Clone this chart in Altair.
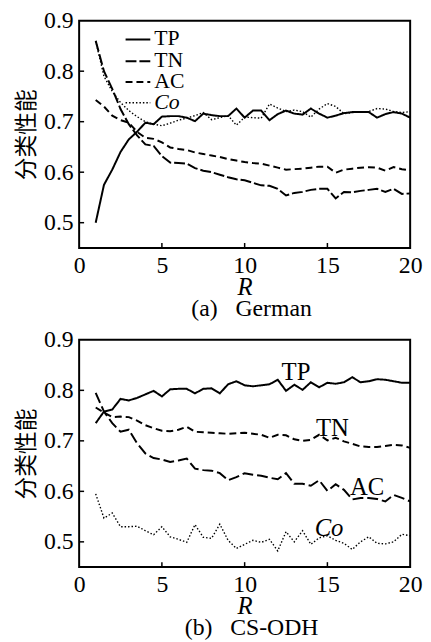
import altair as alt
import pandas as pd

R = [1, 1.5, 2, 2.5, 3, 3.5, 4, 4.5, 5, 5.5, 6, 6.5, 7, 7.5, 8, 8.5, 9, 9.5, 10, 10.5,
     11, 11.5, 12, 12.5, 13, 13.5, 14, 14.5, 15, 15.5, 16, 16.5, 17, 17.5, 18, 18.5, 19, 19.5, 20]

# (a) German
a_TP = [0.500, 0.575, 0.605, 0.640, 0.665, 0.680, 0.698, 0.695, 0.710, 0.711, 0.711, 0.708, 0.701,
        0.716, 0.713, 0.711, 0.711, 0.726, 0.708, 0.722, 0.722, 0.703, 0.715, 0.722, 0.716, 0.714,
        0.726, 0.716, 0.708, 0.712, 0.717, 0.719, 0.719, 0.719, 0.708, 0.715, 0.719, 0.716, 0.708]
a_TN = [0.860, 0.800, 0.765, 0.725, 0.695, 0.673, 0.655, 0.652, 0.632, 0.619, 0.618, 0.617, 0.608,
        0.603, 0.600, 0.595, 0.590, 0.586, 0.584, 0.579, 0.574, 0.573, 0.567, 0.554, 0.559, 0.561,
        0.565, 0.567, 0.567, 0.548, 0.561, 0.560, 0.563, 0.565, 0.567, 0.561, 0.567, 0.557, 0.558]
a_AC = [0.743, 0.730, 0.712, 0.703, 0.698, 0.680, 0.668, 0.666, 0.659, 0.649, 0.646, 0.644, 0.639,
        0.636, 0.633, 0.630, 0.626, 0.623, 0.620, 0.618, 0.617, 0.613, 0.609, 0.605, 0.606, 0.607,
        0.609, 0.611, 0.611, 0.599, 0.605, 0.607, 0.609, 0.610, 0.609, 0.603, 0.610, 0.606, 0.604]
a_Co = [0.860, 0.790, 0.760, 0.738, 0.722, 0.710, 0.700, 0.695, 0.692, 0.697, 0.703, 0.707, 0.712,
        0.718, 0.704, 0.708, 0.712, 0.693, 0.709, 0.708, 0.707, 0.735, 0.727, 0.720, 0.723, 0.720,
        0.709, 0.725, 0.736, 0.730, 0.716, 0.718, 0.719, 0.720, 0.726, 0.725, 0.720, 0.718, 0.720]

# (b) CS-ODH
b_TP = [0.735, 0.758, 0.762, 0.783, 0.780, 0.785, 0.792, 0.799, 0.788, 0.802, 0.803, 0.803, 0.794,
        0.803, 0.804, 0.794, 0.812, 0.818, 0.810, 0.808, 0.810, 0.812, 0.821, 0.799, 0.811, 0.801,
        0.816, 0.806, 0.815, 0.813, 0.816, 0.826, 0.816, 0.818, 0.822, 0.821, 0.818, 0.815, 0.815]
b_TN = [0.766, 0.756, 0.747, 0.748, 0.747, 0.740, 0.731, 0.725, 0.720, 0.719, 0.722, 0.728, 0.718,
        0.717, 0.716, 0.715, 0.714, 0.715, 0.716, 0.714, 0.712, 0.706, 0.712, 0.711, 0.703, 0.700,
        0.702, 0.712, 0.701, 0.706, 0.699, 0.694, 0.689, 0.688, 0.688, 0.690, 0.692, 0.691, 0.686]
b_AC = [0.795, 0.758, 0.735, 0.718, 0.722, 0.695, 0.675, 0.666, 0.663, 0.658, 0.661, 0.665, 0.645,
        0.642, 0.641, 0.636, 0.622, 0.628, 0.636, 0.633, 0.631, 0.627, 0.624, 0.636, 0.615, 0.615,
        0.611, 0.622, 0.601, 0.614, 0.603, 0.584, 0.587, 0.587, 0.585, 0.580, 0.593, 0.587, 0.580]
b_Co = [0.595, 0.547, 0.557, 0.530, 0.530, 0.531, 0.522, 0.514, 0.530, 0.510, 0.505, 0.499, 0.534,
        0.509, 0.507, 0.535, 0.503, 0.487, 0.495, 0.503, 0.499, 0.505, 0.482, 0.520, 0.500, 0.522,
        0.495, 0.508, 0.512, 0.503, 0.497, 0.485, 0.500, 0.510, 0.497, 0.496, 0.500, 0.515, 0.512]

series_names = ["TP", "TN", "AC", "Co"]
x_ticks = [0, 5, 10, 15, 20]
y_ticks = [0.5, 0.6, 0.7, 0.8, 0.9]

# direct labels of panel (b): text, R position, value position
b_label_text = ["TP", "TN", "AC", "Co"]
b_label_x = [13.1, 15.3, 17.4, 15.1]
b_label_y = [0.837, 0.726, 0.609, 0.528]

SERIF = "Liberation Serif"
W, H = 335, 230

# styles: (dash, width)
style_a = {"TP": ([1, 0], 2), "TN": ([11, 3], 2), "AC": ([7, 4], 2), "Co": ([1.5, 2], 1.4)}
style_b = {"TP": ([1, 0], 2), "TN": ([7, 4], 2), "AC": ([11, 4], 2), "Co": ([1.5, 2], 1.4)}


def panel(values, styles, caption, legend):
    df = pd.concat([pd.DataFrame({"R": R, "v": vals, "s": name})
                    for name, vals in zip(series_names, values)])
    xs = alt.X("R:Q", scale=alt.Scale(domain=[0, 20], nice=False),
               axis=alt.Axis(values=x_ticks, format="d", title="R", ticks=False, domain=False,
                             grid=False, labelFont=SERIF, labelFontSize=24, labelColor="black",
                             labelPadding=6, labelFlush=False, labelOverlap=False,
                             titleFont=SERIF, titleFontSize=25, titleFontStyle="italic",
                             titleFontWeight="normal", titleColor="black", titlePadding=-3))
    ys = alt.Y("v:Q", scale=alt.Scale(domain=[0.45, 0.9], nice=False, zero=False),
               axis=alt.Axis(values=y_ticks, format=".1f", title="分类性能", ticks=False,
                             domain=False, grid=False, labelFont=SERIF, labelFontSize=24,
                             labelColor="black", labelPadding=6, labelFlush=False,
                             labelOverlap=False, titleFont="Noto Sans CJK SC", titleFontSize=23,
                             titleFontWeight="normal", titleColor="black", titlePadding=5))
    layers = []
    for name in series_names:
        dash, sw = styles[name]
        layers.append(
            alt.Chart(df).transform_filter(alt.datum.s == name)
            .mark_line(color="black", strokeWidth=sw, strokeDash=dash)
            .encode(x=xs, y=ys)
        )
    # inner ticks
    layers.append(alt.Chart(pd.DataFrame({"t": x_ticks[1:-1]})).mark_rule(color="black", strokeWidth=1.5)
                  .encode(x="t:Q", y=alt.value(H), y2=alt.value(H - 5)))
    layers.append(alt.Chart(pd.DataFrame({"t": y_ticks[:-1]})).mark_rule(color="black", strokeWidth=1.5)
                  .encode(y="t:Q", x=alt.value(0), x2=alt.value(5)))
    if legend:
        ys0 = [18, 40, 61, 82]
        for i, name in enumerate(series_names):
            dash, sw = styles[name]
            d1 = pd.DataFrame({"s": [name]})
            layers.append(alt.Chart(d1).mark_rule(color="black", strokeWidth=sw, strokeDash=dash)
                          .encode(x=alt.value(47), x2=alt.value(72), y=alt.value(ys0[i] + 1)))
            layers.append(alt.Chart(d1).mark_text(font=SERIF, fontSize=22, align="left",
                                                  baseline="middle", color="black",
                                                  fontStyle="italic" if name == "Co" else "normal")
                          .encode(text="s:N", x=alt.value(76), y=alt.value(ys0[i])))
    else:
        for t, lx, ly in zip(b_label_text, b_label_x, b_label_y):
            lab = pd.DataFrame({"t": [t], "x": [lx], "y": [ly]})
            layers.append(alt.Chart(lab).mark_text(font=SERIF, fontSize=25, color="black",
                                                   baseline="middle", align="center",
                                                   fontStyle="italic" if t == "Co" else "normal")
                          .encode(x="x:Q", y="y:Q", text="t:N"))
    ch = alt.layer(*layers).properties(
        width=W, height=H,
        title=alt.TitleParams(text=caption, orient="bottom", font=SERIF, fontSize=24,
                              fontWeight="normal", color="black", anchor="middle", offset=-2, dx=7)
    )
    return ch


top = panel([a_TP, a_TN, a_AC, a_Co], style_a, "(a)\u00a0\u00a0\u00a0German", True)
bot = panel([b_TP, b_TN, b_AC, b_Co], style_b, "(b)\u00a0\u00a0\u00a0CS-ODH", False)

chart = alt.vconcat(top, bot, spacing=93, bounds="flush").properties(
    padding={"left": 7, "top": -4, "right": 0, "bottom": 0},
    background="white",
).configure_view(stroke="black", strokeWidth=2)

chart.save("out.html", embed_options={"renderer": "svg", "actions": False})
